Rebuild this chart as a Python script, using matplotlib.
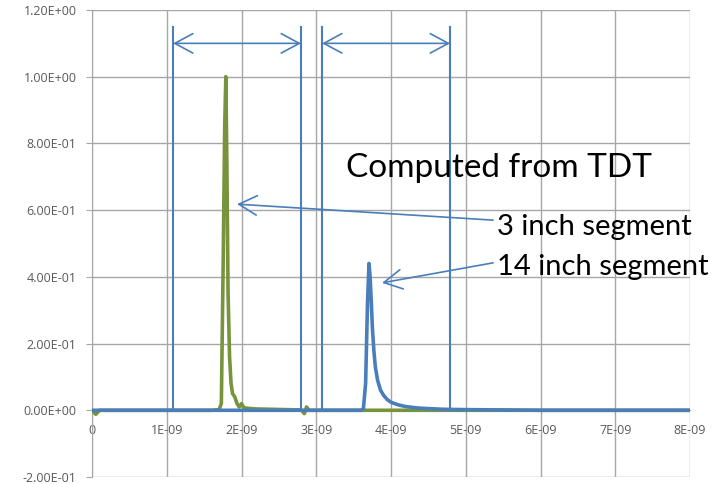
import matplotlib
matplotlib.use("Agg")
import matplotlib.pyplot as plt
from matplotlib.ticker import FuncFormatter
import numpy as np

plt.rcParams['font.family'] = ['Lato', 'DejaVu Sans']

# Time axis in nanoseconds, converted to seconds when plotted
t3_ns = [0.0, 0.05, 0.1, 0.3, 0.5, 0.8, 1.0, 1.2, 1.4, 1.6, 1.70, 1.73, 1.755, 1.775,
         1.79, 1.805, 1.82, 1.84, 1.86, 1.88, 1.91, 1.94, 1.97, 2.0, 2.03, 2.08, 2.2,
         2.4, 2.6, 2.8, 2.84, 2.87, 2.9, 3.2, 3.6, 4.0, 4.4, 5.0, 6.0, 7.0, 8.0]
seg3 = [0.0, -0.012, 0.0, 0.0, 0.0, 0.0, 0.0, 0.0, 0.0, 0.0, 0.002, 0.02, 0.45, 0.85,
        1.0, 0.72, 0.35, 0.16, 0.08, 0.05, 0.04, 0.02, 0.01, 0.02, 0.008, 0.006, 0.004,
        0.003, 0.002, 0.001, -0.01, 0.01, 0.0, 0.0, 0.0, 0.0, 0.0, 0.0, 0.0, 0.0, 0.0]

t14_ns = [0.0, 0.3, 0.6, 1.0, 1.5, 2.0, 2.5, 3.0, 3.3, 3.6, 3.63, 3.66, 3.685, 3.705,
          3.72, 3.735, 3.75, 3.77, 3.79, 3.82, 3.86, 3.9, 3.95, 4.0, 4.1, 4.2, 4.35,
          4.5, 4.7, 5.0, 5.5, 6.0, 7.0, 8.0]
seg14 = [0.0, 0.0, 0.0, 0.0, 0.0, 0.0, 0.0, 0.0, 0.0, 0.0, 0.005, 0.08, 0.32, 0.44,
         0.40, 0.33, 0.25, 0.18, 0.13, 0.09, 0.06, 0.045, 0.032, 0.024, 0.016, 0.011, 0.007,
         0.005, 0.003, 0.002, 0.001, 0.0, 0.0, 0.0]

# Segment boundary markers (ns) and the double-arrow height
bounds_a = [1.084, 2.796]
bounds_b = [3.077, 4.79]
marker_top = 1.15
span_y = 1.10

x_ticks_ns = [0, 1, 2, 3, 4, 5, 6, 7, 8]
x_tick_labels = ["0", "1E-09", "2E-09", "3E-09", "4E-09", "5E-09", "6E-09", "7E-09", "8E-09"]
y_ticks = [-0.2, 0.0, 0.2, 0.4, 0.6, 0.8, 1.0, 1.2]

green = "#77933C"
blue = "#4A7EBB"
grid_c = "#A6A6A6"
label_c = "#595959"

ns = 1e-9
fig = plt.figure(figsize=(7.2, 4.84), dpi=100)
ax = fig.add_axes([0.1278, 0.01446, 0.8306, 0.9649])

ax.set_xlim(0, 8 * ns)
ax.set_ylim(-0.2, 1.2)
ax.set_xticks([v * ns for v in x_ticks_ns])
ax.set_xticklabels(x_tick_labels)
ax.set_yticks(y_ticks)
ax.yaxis.set_major_formatter(FuncFormatter(lambda v, p: "{:.2E}".format(v)))
ax.grid(True, color=grid_c, lw=1.0)
ax.set_axisbelow(True)

for s in ("top", "right"):
    ax.spines[s].set_visible(False)
ax.spines["left"].set_color(grid_c)
ax.spines["bottom"].set_color(grid_c)
ax.spines["bottom"].set_position(("data", 0))
ax.tick_params(axis="y", length=4, color=grid_c, labelsize=9, labelcolor=label_c, pad=7)
ax.tick_params(axis="x", length=0, labelsize=9, labelcolor=label_c, pad=10)
for lab in ax.get_xticklabels() + ax.get_yticklabels():
    lab.set_family(['Open Sans', 'DejaVu Sans'])

ax.plot(np.array(t3_ns) * ns, seg3, color=green, lw=2.6, solid_joinstyle="round", zorder=3)
ax.plot(np.array(t14_ns) * ns, seg14, color=blue, lw=2.6, solid_joinstyle="round", zorder=4)

# Segment boundary lines with double-headed span arrows
for pair in (bounds_a, bounds_b):
    for b in pair:
        ax.plot([b * ns, b * ns], [0, marker_top], color=blue, lw=1.5, zorder=5)
    ax.annotate("", xy=(pair[0] * ns, span_y), xytext=(pair[1] * ns, span_y),
                arrowprops=dict(arrowstyle="<->,head_length=0.65,head_width=0.35",
                                color=blue, lw=1.2, mutation_scale=20,
                                shrinkA=0, shrinkB=0), zorder=6)

ax.text(3.40 * ns, 0.700, "Computed from TDT", fontsize=24, color="black",
        va="baseline", ha="left", zorder=7)

ax.annotate("", xy=(1.94 * ns, 0.618), xytext=(5.365 * ns, 0.570),
            arrowprops=dict(arrowstyle="->,head_length=0.65,head_width=0.35",
                            color=blue, lw=1.2, mutation_scale=20,
                            shrinkA=0, shrinkB=0), annotation_clip=False, zorder=6)
ax.text(5.42 * ns, 0.5255, "3 inch segment", fontsize=21, color="black",
        va="baseline", ha="left", zorder=7)

ax.annotate("", xy=(3.88 * ns, 0.382), xytext=(5.365 * ns, 0.442),
            arrowprops=dict(arrowstyle="->,head_length=0.65,head_width=0.35",
                            color=blue, lw=1.2, mutation_scale=20,
                            shrinkA=0, shrinkB=0), annotation_clip=False, zorder=6)
ax.text(5.42 * ns, 0.4056, "14 inch segment", fontsize=21, color="black",
        va="baseline", ha="left", zorder=7)

fig.savefig("out.png", dpi=100)
